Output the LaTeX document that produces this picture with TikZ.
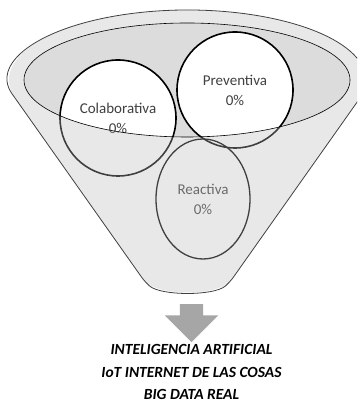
\documentclass[tikz,border=0pt]{standalone}
\usepackage{fontspec}
\setmainfont{Carlito}
\usetikzlibrary{shapes,arrows}
\usetikzlibrary{positioning}
\definecolor{bowlgrey}{HTML}{DCDCDC}
\definecolor{inkgrey}{HTML}{404040}
\definecolor{arrowgrey}{HTML}{A6A6A6}
\tikzset{x=1pt, y=1pt, node distance=1cm, font=\fontsize{15}{20}\selectfont}
\tikzstyle{bubble} = [draw=black, line width=1.6pt, fill=white, circle, minimum size=116pt, inner sep=0pt, align=center, text=inkgrey]
\tikzstyle{drop} = [draw=black, line width=1.3pt, ellipse, minimum width=94pt, minimum height=120pt, inner sep=0pt, align=center, text=inkgrey]
\tikzstyle{front} = [fill=black!26, fill opacity=0.34, even odd rule]
\tikzstyle{outline} = [draw=inkgrey, line width=0.8pt, rounded corners=6pt]
\tikzstyle{bigarrow} = [single arrow, fill=arrowgrey, rotate=-90, minimum height=38pt, single arrow head extend=15pt, single arrow head indent=0pt, inner xsep=0pt, inner ysep=11.5pt]
\tikzstyle{caption} = [font=\fontsize{15.5}{15.5}\selectfont\bfseries\itshape, inner sep=0pt]
\newcommand{\funnel}{(187.5,323) ++(195.5:178.5 and 70) arc[start angle=195.5, end angle=-15.5, x radius=178.5, y radius=70] -- (230,121) .. controls (214,107) and (161,107) .. (145,121) -- cycle}
\newcommand{\bowl}{(187,323) ellipse [x radius=163, y radius=57]}

\begin{document}
\begin{tikzpicture}
	\useasboundingbox (0,0) rectangle (357,403);
	\clip (0,0) rectangle (357,403);

	% inside of the funnel mouth
	\fill [bowlgrey] \bowl;

	\node [bubble] (colab) at (118,285) {Colaborativa\\0\%};
	\node [bubble] (prev) at (235,313) {Preventiva\\0\%};
	\node [drop] (react) at (203,204) {Reactiva\\0\%};

	% front wall, seen through
	\fill [front] \funnel \bowl;
	\draw [outline] \funnel;
	\draw [black, line width=0.6pt] \bowl;

	\coordinate (spout) at (191.5,108);
	\node [bigarrow, below=9pt of spout, anchor=west] (arrow_down) {};

	\node [caption, below=2pt of arrow_down.east] (txt_ia) {INTELIGENCIA ARTIFICIAL};
	\node [caption, below=23pt of txt_ia.base, anchor=base] (txt_iot) {IoT INTERNET DE LAS COSAS};
	\node [caption, below=22pt of txt_iot.base, anchor=base] (txt_bd) {BIG DATA REAL};
\end{tikzpicture}
\end{document}
